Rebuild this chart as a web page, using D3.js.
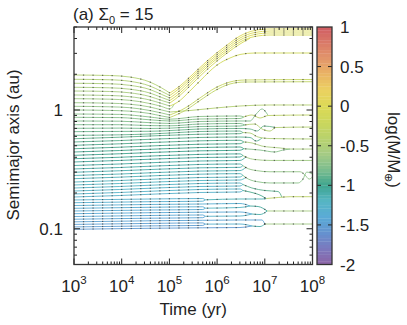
<!DOCTYPE html>
<html>
<head>
<meta charset="utf-8">
<script src="https://cdn.jsdelivr.net/npm/d3@7"></script>
<style>
  body { margin: 0; background: #fff; }
  svg { font-family: "Liberation Sans", Arial, Helvetica, sans-serif; }
</style>
</head>
<body>
<svg id="chart" width="407" height="325"></svg>
<script>
// colour bar: log(M/Mearth)
let cbarTicks = [-2, -1.5, -1, -0.5, 0, 0.5, 1]
let cbarStops = [-2, -1.8, -1.6, -1.4, -1.2, -1.0, -0.8, -0.6, -0.4, -0.2, 0, 0.2, 0.4, 0.6, 0.8, 1]
let cbarColors = ['#8d64a6', '#7b78bd', '#6592cf', '#5aaad6', '#56b6c4', '#3fa58f', '#7dbd8f', '#a5cb84',
                  '#b9d26c', '#cbd75c', '#dcda56', '#ebd161', '#eab564', '#e2966a', '#da7a68', '#d05c62']

// axes
let timeExps = [3, 4, 5, 6, 7, 8]
let axisLabels = [0.1, 1]
// output snapshots, log10(t/yr)
let snapshots = [3, 3.2, 3.4, 3.6, 3.8, 4, 4.2, 4.4, 4.6, 4.8, 5, 5.2, 5.4, 5.6, 5.8,
                 6, 6.2, 6.4, 6.6, 6.8, 7, 7.2, 7.4, 7.6, 7.8, 8]

// tracks: m = log(M/Mearth), t = log10(t/yr), a = semimajor axis (au)
let outerTracks = [
  {m: -0.47, t: [3, 3.75, 4.17, 4.59, 4.84, 5.01], a: [1.971, 1.952, 1.896, 1.721, 1.532, 1.390]},
  {m: -0.49, t: [3, 3.75, 4.17, 4.59, 4.84, 5.01], a: [1.814, 1.797, 1.745, 1.593, 1.432, 1.325]},
  {m: -0.52, t: [3, 3.75, 4.17, 4.59, 4.84, 5.01], a: [1.679, 1.663, 1.614, 1.488, 1.351, 1.262]},
  {m: -0.55, t: [3, 3.75, 4.17, 4.59, 4.84, 5.01], a: [1.553, 1.538, 1.497, 1.390, 1.274, 1.202]},
  {m: -0.57, t: [3, 3.75, 4.17, 4.59, 4.84, 5.01], a: [1.445, 1.432, 1.396, 1.299, 1.202, 1.145]},
  {m: -0.60, t: [3, 3.75, 4.17, 4.59, 4.84, 5.01], a: [1.338, 1.325, 1.294, 1.214, 1.134, 1.081]},
  {m: -0.62, t: [3, 3.75, 4.17, 4.59, 4.84, 5.01, 5.10], a: [1.245, 1.233, 1.207, 1.134, 1.070, 1.020, 1.120]},
  {m: -0.65, t: [3, 3.75, 4.17, 4.59, 4.84, 5.01], a: [1.152, 1.141, 1.119, 1.060, 1.000, 0.962]},
  {m: -0.68, t: [3, 3.75, 4.17, 4.59, 4.84, 5.01], a: [1.074, 1.064, 1.046, 0.990, 0.943, 0.908]},
  {m: -0.70, t: [3, 3.75, 4.17, 4.59, 4.84, 5.01], a: [1.000, 0.992, 0.977, 0.934, 0.890, 0.865]},
  // after the migration dip
  {m: 0.03, t: [5.01, 5.22, 5.43, 5.79, 6.21, 6.48, 6.79, 7.11, 8], a: [1.390, 1.593, 1.896, 2.586, 3.527, 4.200, 4.672, 4.810, 4.810]},
  {m: 0.0, t: [5.01, 5.22, 5.43, 5.79, 6.21, 6.48, 6.79, 7.11, 8], a: [1.325, 1.532, 1.824, 2.488, 3.393, 4.040, 4.494, 4.626, 4.626]},
  {m: -0.02, t: [5.01, 5.22, 5.43, 5.79, 6.21, 6.48, 6.79, 7.11, 8], a: [1.262, 1.459, 1.755, 2.393, 3.264, 3.886, 4.323, 4.451, 4.451]},
  {m: -0.05, t: [5.01, 5.22, 5.43, 5.79, 6.21, 6.48, 6.79, 7.11, 8], a: [1.202, 1.390, 1.672, 2.302, 3.139, 3.737, 4.158, 4.281, 4.281]},
  {m: -0.08, t: [5.01, 5.22, 5.43, 5.79, 6.21, 6.48, 6.69], a: [1.145, 1.325, 1.593, 2.193, 3.020, 3.595, 4.017]},
  {m: -0.15, t: [5.01, 5.18, 5.43, 5.64, 6.00, 6.27, 6.48, 6.79, 8], a: [1.081, 1.168, 1.445, 1.755, 2.393, 2.741, 2.934, 3.020, 3.020]},
  {m: -0.45, t: [5.01, 5.43, 5.96, 6.48, 7.11, 8], a: [0.962, 0.990, 1.039, 1.081, 1.102, 1.102]},
  {m: -0.25, t: [5.01, 5.33, 5.64, 5.96, 6.27, 6.58, 8], a: [0.908, 1.039, 1.262, 1.532, 1.721, 1.789, 1.806]},
  {m: -0.32, t: [5.01, 5.33, 5.64, 5.96, 6.27, 6.58, 8], a: [0.865, 0.990, 1.202, 1.459, 1.656, 1.721, 1.731]}
]

let midTracks = [
  {m: -0.73, t: [3, 3.96, 4.59, 5.01, 5.64, 6.48, 6.56], a: [0.925, 0.918, 0.873, 0.837, 0.882, 0.890, 0.873]},
  {m: -0.75, t: [3, 3.96, 4.59, 5.01, 5.64, 6.48, 6.56], a: [0.868, 0.863, 0.827, 0.808, 0.840, 0.848, 0.873]},
  {m: -0.77, t: [3, 3.96, 4.59, 5.01, 5.64, 6.48, 6.69, 6.82, 6.94, 7.07], a: [0.808, 0.805, 0.782, 0.771, 0.800, 0.808, 0.808, 0.925, 1.020, 0.899]},
  {m: -0.80, t: [3, 3.96, 4.59, 5.01, 5.64, 6.48, 6.58], a: [0.752, 0.752, 0.739, 0.736, 0.762, 0.770, 0.748]},
  {m: -0.82, t: [3, 3.96, 4.59, 5.01, 5.64, 6.48, 6.58], a: [0.701, 0.704, 0.699, 0.703, 0.726, 0.733, 0.748]},
  {m: -0.85, t: [3, 3.96, 4.59, 5.01, 5.64, 6.48, 6.69, 6.84, 6.98, 7.23], a: [0.657, 0.660, 0.662, 0.671, 0.692, 0.699, 0.692, 0.665, 0.733, 0.712]},
  {m: -0.87, t: [3, 3.96, 4.59, 5.01, 5.64, 6.48, 6.54], a: [0.612, 0.618, 0.628, 0.640, 0.659, 0.665, 0.646]},
  {m: -0.89, t: [3, 3.96, 5.64, 6.48, 6.54], a: [0.573, 0.590, 0.625, 0.632, 0.646]},
  {m: -0.91, t: [3, 3.96, 5.64, 6.48, 6.69, 6.82, 6.94], a: [0.538, 0.553, 0.587, 0.592, 0.587, 0.548, 0.581]},
  {m: -0.94, t: [3, 3.96, 5.64, 6.48, 6.56], a: [0.504, 0.519, 0.550, 0.556, 0.538]},
  {m: -0.96, t: [3, 3.96, 5.64, 6.48, 6.56], a: [0.472, 0.486, 0.515, 0.520, 0.538]},
  {m: -0.98, t: [3, 3.96, 5.64, 6.48, 6.56], a: [0.443, 0.456, 0.483, 0.488, 0.472]},
  {m: -1.00, t: [3, 3.96, 5.64, 6.48, 6.56], a: [0.415, 0.428, 0.453, 0.458, 0.472]},
  {m: -1.03, t: [3, 3.96, 5.64, 6.48, 6.54], a: [0.389, 0.400, 0.423, 0.427, 0.414]},
  {m: -1.05, t: [3, 3.96, 5.64, 6.48, 6.54], a: [0.365, 0.376, 0.398, 0.402, 0.414]},
  {m: -1.07, t: [3, 3.96, 5.64, 6.48, 6.60], a: [0.341, 0.351, 0.372, 0.376, 0.402]},
  {m: -1.10, t: [3, 3.96, 5.64, 6.48, 6.54], a: [0.319, 0.328, 0.348, 0.351, 0.340]},
  {m: -1.12, t: [3, 3.96, 5.64, 6.48, 6.54], a: [0.299, 0.308, 0.326, 0.329, 0.340]},
  {m: -1.14, t: [3, 3.96, 5.64, 6.48, 6.60], a: [0.281, 0.289, 0.306, 0.309, 0.328]},
  {m: -1.16, t: [3, 3.96, 5.64, 6.48, 6.54], a: [0.264, 0.272, 0.288, 0.291, 0.282]},
  {m: -1.18, t: [3, 3.96, 5.64, 6.48, 6.54], a: [0.2475, 0.2548, 0.2701, 0.2727, 0.282]},
  {m: -1.20, t: [3, 3.96, 5.64, 6.48, 6.60], a: [0.2336, 0.2405, 0.2548, 0.2573, 0.270]},
  {m: -1.22, t: [3, 3.96, 5.64, 6.48, 6.54], a: [0.2204, 0.2269, 0.2405, 0.2428, 0.236]},
  {m: -1.24, t: [3, 3.96, 5.64, 6.48, 6.54], a: [0.2079, 0.2141, 0.2269, 0.2291, 0.236]},
  {m: -1.26, t: [3, 3.96, 5.64, 6.48, 6.54], a: [0.1962, 0.2020, 0.2141, 0.2162, 0.2100]},
  {m: -1.28, t: [3, 3.96, 5.64, 6.48, 6.54], a: [0.1851, 0.1905, 0.2020, 0.2040, 0.2100]}
]

let innerTracks = [
  {m: -1.30, t: [3, 4.59, 5.70, 5.75], a: [0.1747, 0.1780, 0.1797, 0.1752]},
  {m: -1.32, t: [3, 4.59, 5.70, 5.75], a: [0.1657, 0.1690, 0.1706, 0.1752]},
  {m: -1.34, t: [3, 4.59, 5.70, 6.48, 6.69], a: [0.1569, 0.1601, 0.1616, 0.1632, 0.1554]},
  {m: -1.36, t: [3, 4.59, 5.70, 5.75], a: [0.1487, 0.1516, 0.1531, 0.1490]},
  {m: -1.38, t: [3, 4.59, 5.70, 5.75], a: [0.1411, 0.1438, 0.1452, 0.1490]},
  {m: -1.40, t: [3, 4.59, 5.70, 6.48, 6.73], a: [0.1339, 0.1365, 0.1378, 0.1384, 0.1331]},
  {m: -1.42, t: [3, 4.59, 5.70, 5.75], a: [0.1268, 0.1293, 0.1306, 0.1273]},
  {m: -1.44, t: [3, 4.59, 5.70, 5.75], a: [0.1203, 0.1227, 0.1239, 0.1273]},
  {m: -1.46, t: [3, 4.59, 5.70, 6.48, 6.94, 7.00], a: [0.1144, 0.1167, 0.1178, 0.1185, 0.1185, 0.1096]},
  {m: -1.48, t: [3, 4.59, 5.70, 5.75], a: [0.1088, 0.1109, 0.1120, 0.1094]},
  {m: -1.50, t: [3, 4.59, 5.70, 5.75], a: [0.1036, 0.1057, 0.1067, 0.1094]},
  {m: -1.53, t: [3, 4.59, 5.70, 6.48, 6.73], a: [0.0990, 0.1009, 0.1019, 0.1024, 0.1055]}
]

// bodies after collisions
let mergedTracks = [
  {m: -0.35, t: [6.56, 6.73, 6.90, 7.07, 8], a: [0.873, 0.908, 0.856, 0.899, 0.908]},
  {m: -0.45, t: [6.58, 6.79, 6.94, 7.11, 7.23, 8], a: [0.748, 0.762, 0.692, 0.665, 0.712, 0.719]},
  {m: -0.50, t: [6.54, 6.69, 6.86, 7.11, 8], a: [0.646, 0.640, 0.592, 0.575, 0.570]},
  {m: -0.55, t: [6.56, 6.73, 6.94, 7.32, 7.53, 8], a: [0.538, 0.528, 0.497, 0.479, 0.469, 0.469]},
  {m: -0.75, t: [6.56, 6.90, 7.21, 7.38, 7.53], a: [0.472, 0.460, 0.443, 0.460, 0.469]},
  {m: -0.62, t: [6.54, 6.60, 6.79, 7.11, 8], a: [0.414, 0.402, 0.383, 0.376, 0.376]},
  {m: -0.68, t: [6.54, 6.60, 6.82, 7.11, 7.74, 7.84, 7.93, 8], a: [0.340, 0.328, 0.309, 0.302, 0.302, 0.284, 0.262, 0.273]},
  {m: -0.72, t: [6.54, 6.60, 6.82, 7.11, 7.70, 7.80, 7.88, 8], a: [0.282, 0.270, 0.250, 0.243, 0.243, 0.262, 0.300, 0.289]},
  {m: -0.90, t: [6.54, 6.73, 7.00, 7.28, 7.36], a: [0.236, 0.2204, 0.2100, 0.2059, 0.1840]},
  {m: -0.95, t: [6.54, 6.69, 6.94, 7.03], a: [0.2100, 0.2039, 0.1887, 0.1797]},
  {m: -1.15, t: [5.75, 6.48, 6.94, 7.03], a: [0.1752, 0.1780, 0.1780, 0.1797]},
  {m: -0.35, t: [7.03, 7.28, 7.53, 8], a: [0.1797, 0.1833, 0.1862, 0.1862]},
  {m: -1.20, t: [5.75, 6.48, 6.69], a: [0.1490, 0.1510, 0.1554]},
  {m: -1.05, t: [6.69, 6.86, 7.05], a: [0.1554, 0.1539, 0.1411]},
  {m: -1.25, t: [5.75, 6.48, 6.73], a: [0.1273, 0.1280, 0.1331]},
  {m: -1.10, t: [6.73, 6.90, 7.05], a: [0.1331, 0.1318, 0.1411]},
  {m: -0.58, t: [7.05, 7.21, 8], a: [0.1411, 0.1411, 0.1411]},
  {m: -1.30, t: [5.75, 6.48, 6.73], a: [0.1094, 0.1096, 0.1055]},
  {m: -1.10, t: [6.73, 6.90, 7.00], a: [0.1055, 0.1044, 0.1096]},
  {m: -0.62, t: [7.00, 8], a: [0.1096, 0.1096]}
]

let svg = d3.select('#chart')
let ink = '#222'
let plotLeft = 74, plotRight = 312.5, plotTop = 27, plotBottom = 264.5

let x = d3.scaleLog().domain([1e3, 1e8]).range([plotLeft, plotRight])
let y = d3.scaleLog().domain([0.05, 5]).range([plotBottom, plotTop])
let colour = d3.scaleLinear().domain(cbarStops).range(cbarColors).clamp(true)

svg.append('clipPath').attr('id', 'clip')
  .append('rect').attr('x', plotLeft).attr('y', plotTop)
  .attr('width', plotRight - plotLeft).attr('height', plotBottom - plotTop)

// tracks
let allTracks = [...innerTracks, ...midTracks, ...outerTracks, ...mergedTracks]
let line = d3.line()
  .x(d => x(Math.pow(10, d[0])))
  .y(d => y(d[1]))
  .curve(d3.curveMonotoneX)

let plot = svg.append('g').attr('clip-path', 'url(#clip)')
let paths = plot.selectAll('path.track')
  .data(allTracks)
  .enter()
  .append('path')
  .attr('class', 'track')
  .attr('fill', 'none')
  .attr('stroke', d => colour(d.m))
  .attr('stroke-width', 1)
  .attr('stroke-opacity', 0.9)
  .attr('d', d => line(d.t.map((t, i) => [t, d.a[i]])))

// snapshot markers sit on the drawn curves
let dots = []
paths.each(function (d) {
  let node = this
  let len = node.getTotalLength()
  let t0 = d.t[0], t1 = d.t[d.t.length - 1]
  snapshots.filter(s => s >= t0 - 1e-6 && s <= t1 + 1e-6).forEach(s => {
    let px = x(Math.pow(10, s))
    let lo = 0, hi = len
    for (let k = 0; k < 28; k++) {
      let mid = (lo + hi) / 2
      if (node.getPointAtLength(mid).x < px) lo = mid
      else hi = mid
    }
    let p = node.getPointAtLength(hi)
    dots.push([p.x, p.y])
  })
})
plot.selectAll('rect.dot')
  .data(dots)
  .enter()
  .append('rect')
  .attr('class', 'dot')
  .attr('x', d => d[0] - 0.6)
  .attr('y', d => d[1] - 0.6)
  .attr('width', 1.2)
  .attr('height', 1.2)
  .attr('fill', '#333')
  .attr('fill-opacity', 0.7)

// frame and ticks (inward, mirrored)
let isMajor = v => Math.abs(Math.log10(v) - Math.round(Math.log10(v))) < 1e-6
let xt = x.ticks()
let yt = y.ticks()
let ticks = svg.append('g').attr('stroke', ink).attr('stroke-width', 1)
xt.forEach(v => {
  let len = isMajor(v) ? 6 : 3
  let px = x(v)
  ticks.append('line').attr('x1', px).attr('x2', px).attr('y1', plotBottom).attr('y2', plotBottom - len)
  ticks.append('line').attr('x1', px).attr('x2', px).attr('y1', plotTop).attr('y2', plotTop + len)
})
yt.forEach(v => {
  let len = isMajor(v) ? 6 : 3
  let py = y(v)
  ticks.append('line').attr('x1', plotLeft).attr('x2', plotLeft + len).attr('y1', py).attr('y2', py)
  ticks.append('line').attr('x1', plotRight).attr('x2', plotRight - len).attr('y1', py).attr('y2', py)
})
svg.append('rect')
  .attr('x', plotLeft).attr('y', plotTop)
  .attr('width', plotRight - plotLeft).attr('height', plotBottom - plotTop)
  .attr('fill', 'none').attr('stroke', '#333').attr('stroke-width', 1.3)

// tick labels
let xl = svg.append('g').attr('fill', ink).attr('font-size', 17).attr('text-anchor', 'middle')
timeExps.forEach(e => {
  let t = xl.append('text').attr('x', x(Math.pow(10, e))).attr('y', 292)
  t.append('tspan').text('10')
  t.append('tspan').attr('font-size', 11.5).attr('dy', -8).text(e)
})
svg.append('g').attr('fill', ink).attr('font-size', 17).attr('text-anchor', 'end')
  .selectAll('text').data(axisLabels).enter().append('text')
  .attr('x', 63).attr('y', d => y(d) + 6)
  .text(d => d)

// axis titles
svg.append('text').attr('x', (plotLeft + plotRight) / 2).attr('y', 315)
  .attr('text-anchor', 'middle').attr('font-size', 17).attr('fill', ink)
  .text('Time (yr)')
svg.append('text').attr('transform', 'translate(19,145) rotate(-90)')
  .attr('text-anchor', 'middle').attr('font-size', 17).attr('fill', ink)
  .text('Semimajor axis (au)')

// panel title
let title = svg.append('text').attr('x', 73).attr('y', 20).attr('font-size', 17).attr('fill', ink)
title.append('tspan').text('(a) Σ')
title.append('tspan').attr('font-size', 11).attr('dy', 4).text('0')
title.append('tspan').attr('dy', -4).text(' = 15')

// colour bar
let cbX = 317, cbW = 15
let cb = d3.scaleLinear().domain([-2, 1]).range([plotBottom, plotTop])
let nBands = 72
let bandH = (plotBottom - plotTop) / nBands
svg.append('g').selectAll('rect')
  .data(d3.range(nBands))
  .enter()
  .append('rect')
  .attr('x', cbX).attr('width', cbW)
  .attr('y', i => plotBottom - (i + 1) * bandH)
  .attr('height', bandH + 0.3)
  .attr('fill', i => colour(-2 + (i + 0.5) * 3 / nBands))
let cbt = svg.append('g').attr('stroke', ink).attr('stroke-width', 1)
cbarTicks.slice(1, -1).forEach(v => {
  cbt.append('line').attr('x1', cbX).attr('x2', cbX + 4).attr('y1', cb(v)).attr('y2', cb(v))
  cbt.append('line').attr('x1', cbX + cbW - 4).attr('x2', cbX + cbW).attr('y1', cb(v)).attr('y2', cb(v))
})
svg.append('rect').attr('x', cbX).attr('y', plotTop).attr('width', cbW).attr('height', plotBottom - plotTop)
  .attr('fill', 'none').attr('stroke', '#333').attr('stroke-width', 1.3)
svg.append('g').attr('fill', ink).attr('font-size', 17)
  .selectAll('text').data(cbarTicks).enter().append('text')
  .attr('x', 340).attr('y', d => cb(d) + 6)
  .text(d => d)

let cbTitle = svg.append('text').attr('transform', 'translate(388,150) rotate(90)')
  .attr('text-anchor', 'middle').attr('font-size', 17).attr('fill', ink)
cbTitle.append('tspan').text('log(M/M')
cbTitle.append('tspan').attr('font-size', 11).attr('dy', 3).text('⊕')
cbTitle.append('tspan').attr('dy', -3).text(')')
</script>
</body>
</html>
